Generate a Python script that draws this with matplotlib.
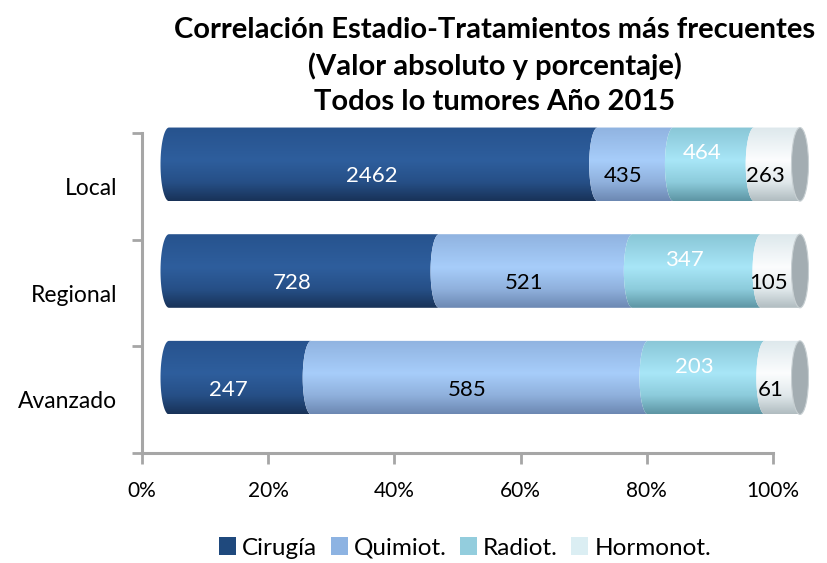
import matplotlib
matplotlib.use('Agg')
import matplotlib.pyplot as plt
import numpy as np
from matplotlib.path import Path
from matplotlib.patches import PathPatch, Ellipse, Patch
from matplotlib.colors import LinearSegmentedColormap
import matplotlib.transforms as mtransforms

plt.rcParams['font.family'] = ['Lato', 'DejaVu Sans']

categories = ['Local', 'Regional', 'Avanzado']
series = ['Cirugía', 'Quimiot.', 'Radiot.', 'Hormonot.']
cirugia = [2462, 728, 247]
quimiot = [435, 521, 585]
radiot = [464, 347, 203]
hormonot = [263, 105, 61]
xticks = [0, 20, 40, 60, 80, 100]
xticklabels = ['0%', '20%', '40%', '60%', '80%', '100%']
title = 'Correlación Estadio-Tratamientos más frecuentes\n(Valor absoluto y porcentaje)\nTodos lo tumores Año 2015'

legend_colors = ['#1f497d', '#8db3e2', '#93cddd', '#dbeef3']
grad_stops = [
    ['#27538e', '#2e5e9d', '#264f86', '#183258'],
    ['#90b3e0', '#a7cdfa', '#8fb0dc', '#6c88b2'],
    ['#89c6d6', '#a8e6f7', '#8ccbdb', '#5d95a3'],
    ['#dde8ec', '#fcfdfe', '#e0e8eb', '#b0bcc0'],
]
label_colors = ['white', 'black', 'white', 'black']
label_dy = [-12, -12, 11, -12]

W, H = 827, 563
fig = plt.figure(figsize=(W / 100, H / 100), dpi=100)


def rect(l, t, r, b):
    return [l / W, (H - b) / H, (r - l) / W, (b - t) / H]


ax = fig.add_axes(rect(142, 133, 773, 453))
# bar axes: same scale, shifted by the 3-D depth offset, with margin
margin = 25
bx = fig.add_axes(rect(169 - margin, 111, 800 + margin, 431))
mx = margin / 631 * 100
ax.set_xlim(0, 100)
ax.set_ylim(2.5, -0.5)
bx.axis('off')
bx.patch.set_alpha(0)

# axis styling
axis_col = '#a6a6a6'
for s in ['top', 'right']:
    ax.spines[s].set_visible(False)
for s in ['left', 'bottom']:
    ax.spines[s].set_color(axis_col)
    ax.spines[s].set_linewidth(2.2)
ax.set_xticks(xticks)
ax.set_xticklabels(xticklabels, fontsize=15)
ax.set_yticks([-0.5, 0.5, 1.5, 2.5])
ax.set_yticklabels([])
ax.set_yticks(range(len(categories)), minor=True)
ax.set_yticklabels(categories, minor=True, fontsize=16.5)
ax.tick_params(axis='y', which='minor', length=0, pad=18)
ax.tick_params(axis='y', which='major', length=7, width=2, color=axis_col)
ax.tick_params(axis='x', length=8, width=2, color=axis_col, pad=12)
ax.patch.set_alpha(0)

data = np.array([cirugia, quimiot, radiot, hormonot], dtype=float)
totals = data.sum(axis=0)
pct = data / totals * 100
cum = np.cumsum(pct, axis=0)
starts = cum - pct

hh = 0.345
rx = 8.5 / 631 * 100
phi = np.linspace(0, np.pi, 40)
grad = np.linspace(0, 1, 256).reshape(-1, 1)

for j, cat in enumerate(categories):
    for i in range(len(series)):
        x0, x1 = starts[i, j], cum[i, j]
        last = (i == len(series) - 1)
        pts = [(x0, j - hh), (x1, j - hh)]
        if last:
            pts += [(x1, j + hh)]
        else:
            pts += list(zip(x1 - rx * np.sin(phi), j - hh * np.cos(phi)))
        pts += [(x0, j + hh)]
        pts += list(zip(x0 - rx * np.sin(phi[::-1]), j - hh * np.cos(phi[::-1])))
        path = Path(pts + [pts[0]], closed=True)
        patch = PathPatch(path, fc='none', ec='none')
        bx.add_patch(patch)
        cmap = LinearSegmentedColormap.from_list(
            f'c{i}', list(zip([0, 0.45, 0.75, 1.0], grad_stops[i])))
        im = bx.imshow(grad, cmap=cmap, aspect='auto', interpolation='bilinear',
                       extent=(x0 - rx - 1, x1 + rx + 1, j + hh, j - hh),
                       origin='upper', zorder=2)
        im.set_clip_path(patch)
        if last:
            cap = Ellipse((x1, j), 2 * rx, 2 * hh, fc='#a3adb2', ec='#c8d0d3',
                          lw=0.8, zorder=3)
            bx.add_patch(cap)
        tr = mtransforms.offset_copy(bx.transData, fig=fig, x=-12,
                                     y=label_dy[i], units='dots')
        bx.text((x0 + x1) / 2, j, f'{int(data[i, j])}', transform=tr,
                ha='center', va='center', fontsize=16, color=label_colors[i],
                zorder=5)

bx.set_xlim(-mx, 100 + mx)
bx.set_ylim(2.5, -0.5)

fig.text(495 / W, 1 - 66 / H, title, ha='center', va='center',
         fontsize=21, fontweight='bold', linespacing=1.42)

handles = [Patch(fc=c, ec='none') for c in legend_colors]
fig.legend(handles, series, loc='center', bbox_to_anchor=(465 / W, 15 / H),
           ncol=4, frameon=False, fontsize=17.5, handlelength=0.7,
           handleheight=0.7, handletextpad=0.25, columnspacing=0.55)

fig.savefig('out.png', dpi=100)
